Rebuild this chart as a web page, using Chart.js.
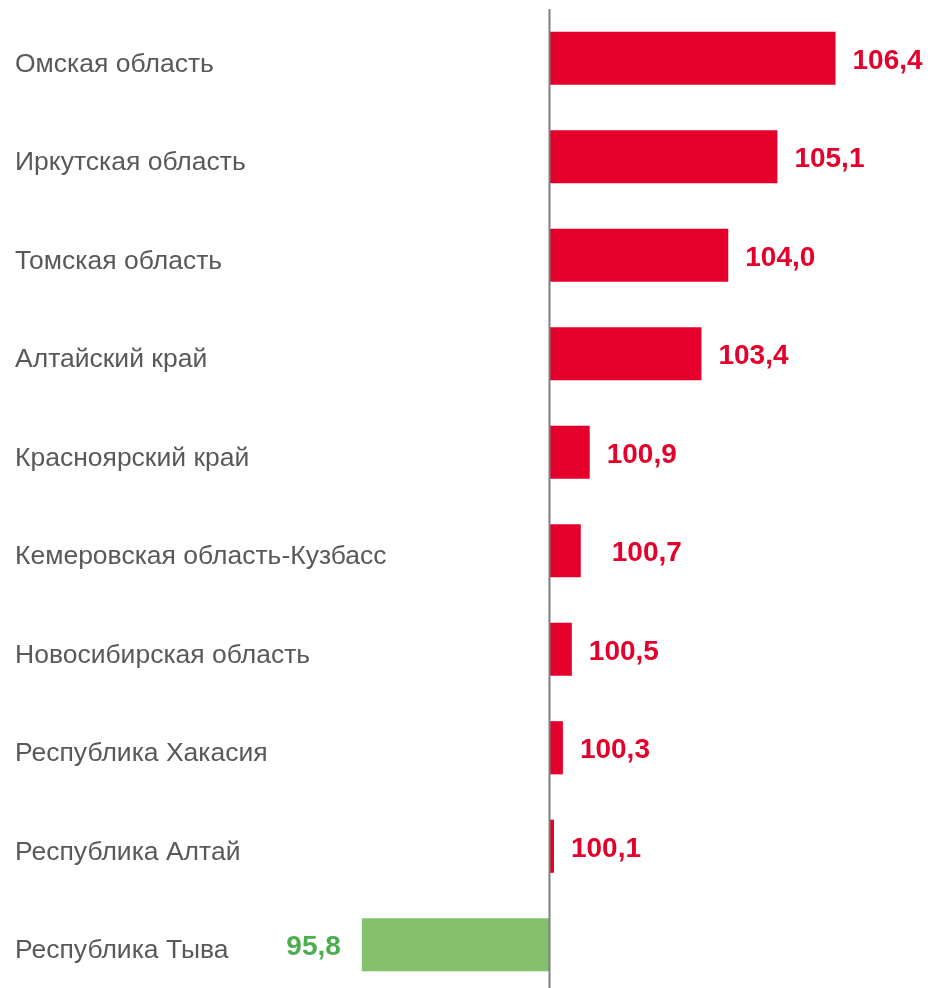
<!DOCTYPE html>
<html>
<head>
<meta charset="utf-8">
<script src="https://cdn.jsdelivr.net/npm/chart.js@4"></script>
<style>
  html, body { margin: 0; padding: 0; background: #fff; overflow: hidden; }
  #wrap { width: 938px; height: 1000px; }
</style>
</head>
<body>
<div id="wrap"><canvas id="chart" width="938" height="1000"></canvas></div>
<script>
// Индексы по регионам Сибири, база = 100
const regions = [
  'Омская область',
  'Иркутская область',
  'Томская область',
  'Алтайский край',
  'Красноярский край',
  'Кемеровская область-Кузбасс',
  'Новосибирская область',
  'Республика Хакасия',
  'Республика Алтай',
  'Республика Тыва'
];
const values = [106.4, 105.1, 104.0, 103.4, 100.9, 100.7, 100.5, 100.3, 100.1, 95.8];
const baseLine = 100;

const RED = '#e4002b';
const GREEN_BAR = '#85c06c';
const GREEN_TEXT = '#4cae4f';
const FONT = "'Liberation Sans', Arial, sans-serif";

// подписи категорий слева + значения у концов столбцов + вертикальная ось 100
const labelsPlugin = {
  id: 'labelsPlugin',
  afterDatasetsDraw(chart) {
    const { ctx, chartArea, scales: { x, y } } = chart;
    const axisX = x.getPixelForValue(baseLine);
    ctx.save();
    ctx.strokeStyle = '#7f7f7f';
    ctx.lineWidth = 2;
    ctx.beginPath();
    ctx.moveTo(axisX, chartArea.top);
    ctx.lineTo(axisX, chartArea.bottom);
    ctx.stroke();

    ctx.textBaseline = 'middle';
    regions.forEach((name, i) => {
      const cy = y.getPixelForValue(i);
      ctx.font = '26.5px ' + FONT;
      ctx.fillStyle = '#595959';
      ctx.textAlign = 'left';
      ctx.fillText(name, 15, cy + 6);

      const v = values[i];
      const txt = v.toFixed(1).replace('.', ',');
      const end = x.getPixelForValue(v);
      ctx.font = 'bold 28px ' + FONT;
      if (v >= baseLine) {
        ctx.fillStyle = RED;
        ctx.textAlign = 'left';
        const gap = i === 5 ? 31 : 17;
        ctx.fillText(txt, end + gap, cy + 3);
      } else {
        ctx.fillStyle = GREEN_TEXT;
        ctx.textAlign = 'right';
        ctx.fillText(txt, end - 21, cy + 3);
      }
    });
    ctx.restore();
  }
};

new Chart(document.getElementById('chart').getContext('2d'), {
  type: 'bar',
  data: {
    labels: regions,
    datasets: [{
      data: values.map(v => [baseLine, v]),
      backgroundColor: values.map(v => v >= baseLine ? RED : GREEN_BAR),
      borderWidth: 0,
      categoryPercentage: 1,
      barPercentage: 0.54
    }]
  },
  options: {
    indexAxis: 'y',
    responsive: false,
    animation: false,
    layout: { padding: { left: 192, right: 31, top: 9, bottom: 6 } },
    plugins: { legend: { display: false }, tooltip: { enabled: false } },
    scales: {
      x: { min: 92, max: 108, display: false },
      y: { display: false }
    }
  },
  plugins: [labelsPlugin]
});
</script>
</body>
</html>
